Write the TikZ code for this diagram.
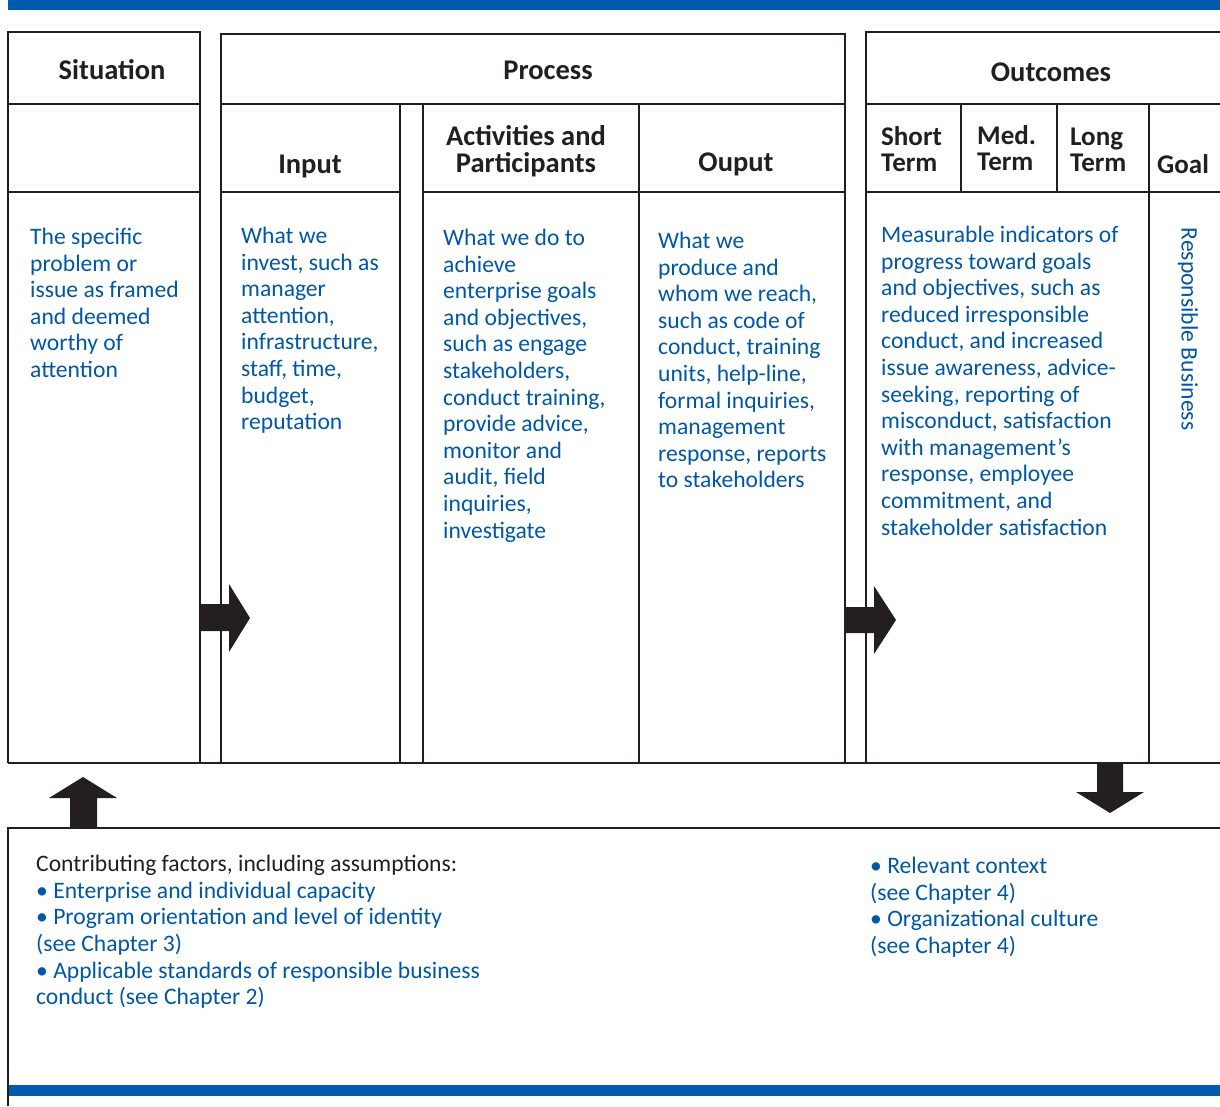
\documentclass[tikz,border=0pt]{standalone}
\usepackage{fontspec}
\setmainfont{Carlito}
\definecolor{ink}{RGB}{35,31,32}
\definecolor{bluebar}{RGB}{0,91,170}
\definecolor{bluetext}{RGB}{0,87,163}
\tikzset{
  frame/.style={draw=ink, line width=2pt},
  head/.style={text=ink, font=\fontsize{28.5}{27}\selectfont\bfseries, inner sep=0pt, align=center},
  subhead/.style={text=ink, font=\fontsize{27}{26.5}\selectfont\bfseries, inner sep=0pt, align=left},
  body/.style={text=bluetext, font=\fontsize{23.6}{26.6}\selectfont, inner sep=0pt, align=left, anchor=north west},
  blockarrow/.style={fill=ink, draw=none}
}
\begin{document}
\begin{tikzpicture}[x=1pt,y=-1pt]
\useasboundingbox (0,0) rectangle (1220,1106);
% blue bars
\fill[bluebar] (8,0) rectangle (1220,10);
\fill[bluebar] (8,1085) rectangle (1220,1096);
% Situation column
\draw[frame] (8,763) -- (8,32) -- (200,32) -- (200,763);
\draw[frame] (8,104) -- (200,104);
\draw[frame] (8,192) -- (200,192);
% bottom line of the top section
\draw[frame] (8,763) -- (1220,763);
% Process
\draw[frame] (221,763) -- (221,34) -- (845,34) -- (845,763);
\draw[frame] (221,104) -- (845,104);
\draw[frame] (221,192) -- (400,192);
\draw[frame] (423,192) -- (845,192);
\draw[frame] (400,104) -- (400,763);
\draw[frame] (423,104) -- (423,763);
\draw[frame] (639,104) -- (639,763);
% Outcomes
\draw[frame] (866,763) -- (866,32) -- (1220,32);
\draw[frame] (866,104) -- (1220,104);
\draw[frame] (866,192) -- (1220,192);
\draw[frame] (961,104) -- (961,192);
\draw[frame] (1057,104) -- (1057,192);
\draw[frame] (1149,104) -- (1149,763);
% bottom box
\draw[frame] (8,1106) -- (8,828) -- (1220,828);

% headers
\node[head] (hsit) at (112,70) {Situation};
\node[head] (hproc) at (548,70) {Process};
\node[head] (hout) at (1051,72) {Outcomes};
\node[head] (hin) at (310,166) {Input};
\node[head] (hact) at (526,151) {Activities and\\Participants};
\node[head] (houp) at (736,164) {Ouput};
\node[subhead, anchor=west] (hst) at (881,149) {Short\\Term};
\node[subhead, anchor=west] (hmt) at (977,148) {Med.\\Term};
\node[subhead, anchor=west] (hlt) at (1070,150) {Long\\Term};
\node[subhead, anchor=west] (hgo) at (1157,164) {Goal};

% body texts
\node[body] (tsit) at (30,228) {The specific\\problem or\\issue as framed\\and deemed\\worthy of\\attention};
\node[body] (tin) at (241,227) {What we\\invest, such as\\manager\\attention,\\infrastructure,\\staff, time,\\budget,\\reputation};
\node[body] (tact) at (443,229) {What we do to\\achieve\\enterprise goals\\and objectives,\\such as engage\\stakeholders,\\conduct training,\\provide advice,\\monitor and\\audit, field\\inquiries,\\investigate};
\node[body] (toup) at (658,232) {What we\\produce and\\whom we reach,\\such as code of\\conduct, training\\units, help-line,\\formal inquiries,\\management\\response, reports\\to stakeholders};
\node[body] (tout) at (881,226) {Measurable indicators of\\progress toward goals\\and objectives, such as\\reduced irresponsible\\conduct, and increased\\issue awareness, advice-\\seeking, reporting of\\misconduct, satisfaction\\with management’s\\response, employee\\commitment, and\\stakeholder satisfaction};
\node[text=bluetext, font=\fontsize{23.6}{26.6}\selectfont, inner sep=0pt, rotate=-90] (tgoal) at (1188,329) {Responsible Business};

% bottom texts
\node[body] (tcf) at (36,855) {\textcolor{ink}{Contributing factors, including assumptions:}\\• Enterprise and individual capacity\\• Program orientation and level of identity\\(see Chapter 3)\\• Applicable standards of responsible business\\conduct (see Chapter 2)};
\node[body] (tctx) at (870,857) {• Relevant context\\(see Chapter 4)\\• Organizational culture\\(see Chapter 4)};

% block arrows
\fill[blockarrow] (200,604) -- (229,604) -- (229,584) -- (250,618) -- (229,652) -- (229,631) -- (200,631) -- cycle;
\fill[blockarrow] (845,607) -- (874,607) -- (874,586) -- (896,620) -- (874,654) -- (874,633) -- (845,633) -- cycle;
\fill[blockarrow] (1097,763) -- (1123,763) -- (1123,792) -- (1144,792) -- (1110,813) -- (1076,792) -- (1097,792) -- cycle;
\fill[blockarrow] (70,827) -- (70,798) -- (49,798) -- (83,777) -- (117,798) -- (97,798) -- (97,827) -- cycle;
\end{tikzpicture}
\end{document}
